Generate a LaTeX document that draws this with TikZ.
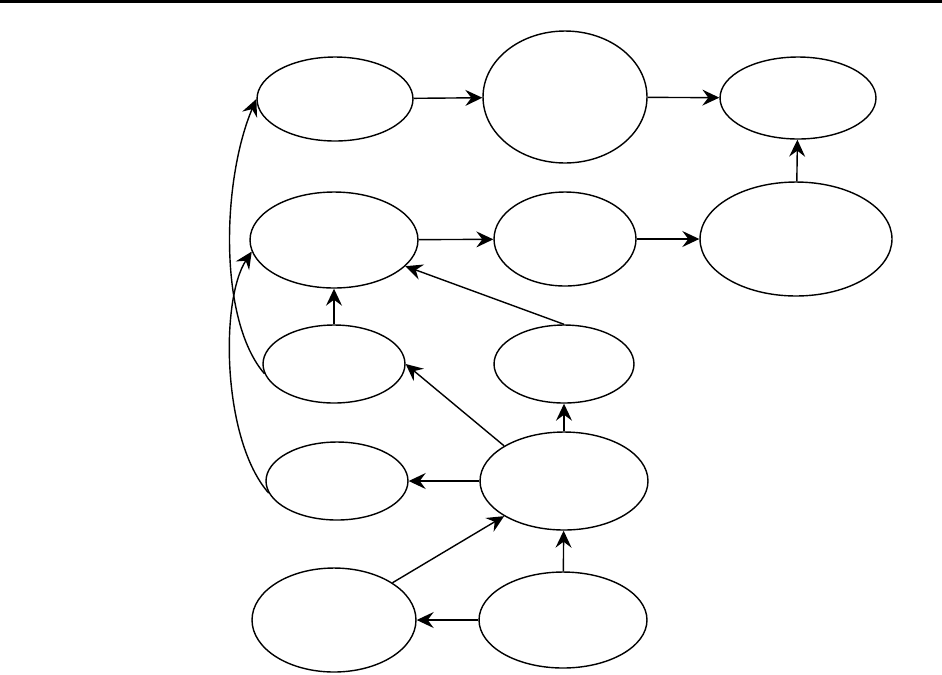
\documentclass[tikz,border=0pt]{standalone}
\usepackage{tikz}
\usetikzlibrary{shapes.geometric,arrows.meta,positioning}
\tikzset{
  stnode/.style={
    ellipse, draw=black, line width=0.8pt, fill=white, inner sep=0pt
  },
  starrow/.style={-{Stealth[length=0.34cm, width=0.32cm, inset=0.12cm]}, line width=0.8pt, draw=black},
}
\begin{document}
\begin{tikzpicture}[x=0.02cm, y=-0.02cm]
  \useasboundingbox (0,0) rectangle (942,674);
  \fill[black] (0,0) rectangle (942,3);
  % top row
  \node (n1) [stnode, minimum width=3.12cm, minimum height=1.68cm] at (335,99) {};
  \node (n2) [stnode, minimum width=3.28cm, minimum height=2.64cm] at (565,97) {};
  \node (n3) [stnode, minimum width=3.12cm, minimum height=1.64cm] at (798,98) {};
  % second row
  \node (n4) [stnode, minimum width=3.36cm, minimum height=1.92cm] at (334,240) {};
  \node (n5) [stnode, minimum width=2.84cm, minimum height=1.88cm] at (565,239) {};
  \node (n6) [stnode, minimum width=3.84cm, minimum height=2.28cm] at (796,239) {};
  % lower rows
  \node (n7) [stnode, minimum width=2.84cm, minimum height=1.56cm] at (334,364) {};
  \node (n8) [stnode, minimum width=2.80cm, minimum height=1.56cm] at (564,364) {};
  \node (n9) [stnode, minimum width=2.84cm, minimum height=1.56cm] at (337,481) {};
  \node (n10) [stnode, minimum width=3.36cm, minimum height=1.96cm] at (564,481) {};
  \node (n11) [stnode, minimum width=3.28cm, minimum height=2.08cm] at (334,620) {};
  \node (n12) [stnode, minimum width=3.36cm, minimum height=1.92cm] at (563,620) {};
  \draw[starrow] (n1)--(n2); \draw[starrow] (n2)--(n3); \draw[starrow] (n6)--(n3);
  \draw[starrow] (n4)--(n5); \draw[starrow] (n5)--(n6);
  \draw[starrow] (n7)--(n4); \draw[starrow] (n8.north)--(n4);
  \draw[starrow] (n10)--(n8); \draw[starrow] (n10.north west)--(n7.east);
  \draw[starrow] (n10)--(n9);
  \draw[starrow] (n11.north east)--(n10.south west);
  \draw[starrow] (n12)--(n11); \draw[starrow] (n12)--(n10);
  \draw[starrow] (n7.188) .. controls (218,320) and (222,180) .. (n1.west);
  \draw[starrow] (n9.190) .. controls (222,440) and (220,300) .. (n4.188);
\end{tikzpicture}
\end{document}
